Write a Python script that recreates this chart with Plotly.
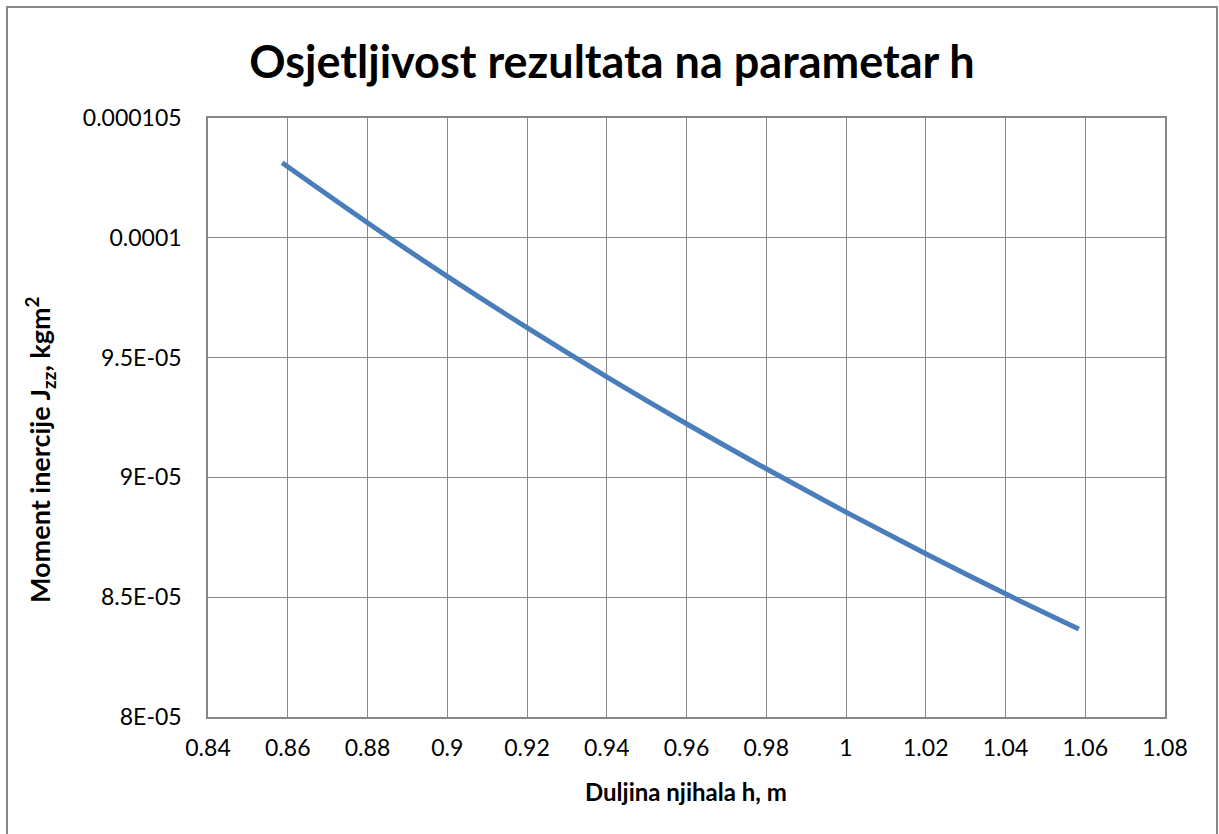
import plotly.graph_objects as go

# Data
h_values = [0.8586, 0.88, 0.90, 0.92, 0.94, 0.96, 0.98, 1.00, 1.02, 1.04, 1.0584]
J_values = [1.0313e-4, 1.0063e-4, 9.839e-5, 9.625e-5, 9.420e-5, 9.224e-5,
            9.036e-5, 8.855e-5, 8.681e-5, 8.514e-5, 8.367e-5]

x_tickvals = [0.84, 0.86, 0.88, 0.90, 0.92, 0.94, 0.96, 0.98, 1.00, 1.02, 1.04, 1.06, 1.08]
x_ticktext = ["0.84", "0.86", "0.88", "0.9", "0.92", "0.94", "0.96", "0.98", "1", "1.02", "1.04", "1.06", "1.08"]
y_tickvals = [8.0e-5, 8.5e-5, 9.0e-5, 9.5e-5, 1.0e-4, 1.05e-4]
y_ticktext = ["8E-05", "8.5E-05", "9E-05", "9.5E-05", "0.0001", "0.000105"]

title_text = "Osjetljivost rezultata na parametar h"
x_title = "Duljina njihala h, m"
y_title = "Moment inercije J<sub>zz</sub>, kgm<sup>2</sup>"

W, H = 1219, 834
# plot area in reference page pixels: x 208..1165, y 118..717
L, T = 208, 118
R = W - 1165
B = H - 717
pw, ph = W - L - R, H - T - B


def px(xr):
    return (xr - 208) / pw


def py(yr):
    return (717 - yr) / ph


FONT = "Lato, Open Sans, sans-serif"
GRID = "#878787"

fig = go.Figure()
fig.add_trace(go.Scatter(
    x=h_values, y=J_values, mode="lines",
    line=dict(color="#4A7EBB", width=5, shape="spline"),
    showlegend=False, hoverinfo="x+y",
))

fig.update_layout(
    width=W, height=H,
    margin=dict(l=L, r=R, t=T, b=B),
    paper_bgcolor="white", plot_bgcolor="white",
    font=dict(family=FONT, color="black"),
    title=dict(text="<b>" + title_text + "</b>", x=612 / W, xref="container", xanchor="center",
               y=1 - 62 / H, yref="container", yanchor="middle",
               font=dict(size=45, family=FONT, color="black")),
    xaxis=dict(range=[0.84, 1.08], tickvals=x_tickvals, ticktext=x_ticktext,
               showgrid=True, gridcolor=GRID, gridwidth=1,
               showline=True, linecolor=GRID, linewidth=1.5, mirror=True,
               ticks="outside", ticklen=10, tickcolor="rgba(0,0,0,0)",
               tickfont=dict(size=23, family=FONT, color="black"), zeroline=False),
    yaxis=dict(range=[8.0e-5, 1.05e-4], tickvals=y_tickvals, ticktext=y_ticktext,
               showgrid=True, gridcolor=GRID, gridwidth=1,
               showline=True, linecolor=GRID, linewidth=1.5, mirror=True,
               ticks="outside", ticklen=20, tickcolor="rgba(0,0,0,0)",
               tickfont=dict(size=23, family=FONT, color="black"), zeroline=False),
    shapes=[dict(type="rect", xref="paper", yref="paper",
                 x0=px(7), x1=px(1217), y0=py(850), y1=py(7),
                 line=dict(color="#878787", width=2), fillcolor="rgba(0,0,0,0)", layer="below")],
    annotations=[
        dict(text="<b>" + x_title + "</b>", xref="paper", yref="paper",
             x=px(686), y=py(791), xanchor="center", yanchor="middle",
             showarrow=False, font=dict(size=24, family=FONT, color="black")),
        dict(text="<b>" + y_title + "</b>", xref="paper", yref="paper",
             x=px(40), y=py(450), xanchor="center", yanchor="middle",
             textangle=-90, showarrow=False, font=dict(size=27, family=FONT, color="black")),
    ],
)

fig.write_html("out.html", config={"displayModeBar": False},
               post_script="document.body.style.margin='0px';document.body.style.overflow='hidden';")
